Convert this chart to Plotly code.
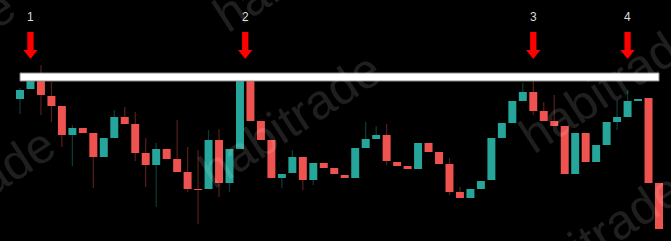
import plotly.graph_objects as go

# OHLC values (arbitrary price units)
opens  = [142,152,161,145,135,106,113,108,84,103,124,117,88,76,92,82,69,52,52,101,58,92,160,120,101,63,68,84,61,78,73,66,63,93,102,106,79,75,72,98,89,77,49,43,52,61,103,118,140,149,130,120,115,67,108,79,96,119,124,140,143,58]
closes = [151,161,146,135,106,113,108,84,103,124,117,88,76,92,82,69,52,51,101,58,92,160,120,101,63,67,84,61,78,73,67,63,93,102,106,80,75,72,98,89,77,49,43,52,60,103,118,140,149,130,120,115,67,108,79,96,119,124,140,142,58,12]
highs  = [153,168,176,159,135,116,113,108,103,131,134,129,103,98,92,121,94,91,111,112,92,165,166,120,101,67,91,84,78,78,73,66,93,119,115,117,79,75,98,98,89,83,54,52,60,103,118,140,158,161,139,146,115,108,108,96,119,141,151,142,143,58]
lows   = [127,152,126,119,94,75,108,53,84,103,117,80,54,34,82,69,49,17,52,44,49,92,120,101,63,53,68,51,56,73,67,63,63,93,102,76,75,72,72,89,77,46,43,43,52,61,103,118,140,126,120,115,67,67,79,79,96,111,124,140,58,12]
tick_idx = list(range(len(opens)))

# Annotation content
marker_idx = [1, 21.5, 49, 58]
marker_labels = ["1", "2", "3", "4"]
level_price = [160, 168]
watermark = "habitrade"

UP = "#26a69a"
DOWN = "#ef5350"
UP_WICK = "rgba(38,166,154,0.35)"
DOWN_WICK = "rgba(239,83,80,0.35)"

base = [min(o, c) for o, c in zip(opens, closes)]
height = [max(abs(c - o), 1) for o, c in zip(opens, closes)]
colors = [UP if c >= o else DOWN for o, c in zip(opens, closes)]
wick_colors = [UP_WICK if c >= o else DOWN_WICK for o, c in zip(opens, closes)]

fig = go.Figure()
fig.add_trace(go.Bar(x=tick_idx, base=lows, y=[h - l for h, l in zip(highs, lows)],
                     width=0.12, marker=dict(color=wick_colors, line=dict(width=0)),
                     hoverinfo="skip"))
fig.add_trace(go.Bar(x=tick_idx, base=base, y=height, width=0.76,
                     marker=dict(color=colors, line=dict(width=0))))

shapes = []
# horizontal resistance level
shapes.append(dict(type="rect", xref="x", yref="y", x0=tick_idx[0], x1=tick_idx[-1],
                   y0=level_price[0], y1=level_price[1], fillcolor="white",
                   line=dict(color="#8a8a8a", width=1), layer="above"))
# red arrows
for mx in marker_idx:
    shapes.append(dict(type="rect", xref="x", yref="y", x0=mx - 0.3, x1=mx + 0.3,
                       y0=190, y1=209, fillcolor="#ff0000", line=dict(width=0)))
    shapes.append(dict(type="path", xref="x", yref="y",
                       path=f"M {mx-0.68},191 L {mx+0.68},191 L {mx},182 Z",
                       fillcolor="#ff0000", line=dict(width=0)))

annotations = []
for mx, lab in zip(marker_idx, marker_labels):
    annotations.append(dict(x=mx, y=224, xref="x", yref="y", text=lab, showarrow=False,
                            font=dict(family="Arial", size=12, color="#dcdcdc")))

wm_centers = [(290, 120), (610, 85), (591, 240), (-36, 195), (304, -36), (-76, 57)]
for px, py in wm_centers:
    annotations.append(dict(x=px / 671, y=1 - py / 241, xref="paper", yref="paper",
                            text=watermark, showarrow=False, textangle=-33,
                            xanchor="center", yanchor="middle",
                            font=dict(family="Arial", size=49,
                                      color="rgba(255,255,255,0.12)")))

fig.update_layout(
    width=671, height=241, margin=dict(l=0, r=0, t=0, b=0),
    paper_bgcolor="black", plot_bgcolor="black", showlegend=False,
    barmode="overlay", shapes=shapes, annotations=annotations,
    xaxis=dict(range=[-1.909, 62.146], visible=False, fixedrange=True),
    yaxis=dict(range=[0, 241], visible=False, fixedrange=True),
)
fig.write_html("out.html", config={"displayModeBar": False},
               post_script="document.body.style.margin='0';document.body.style.background='black';")
